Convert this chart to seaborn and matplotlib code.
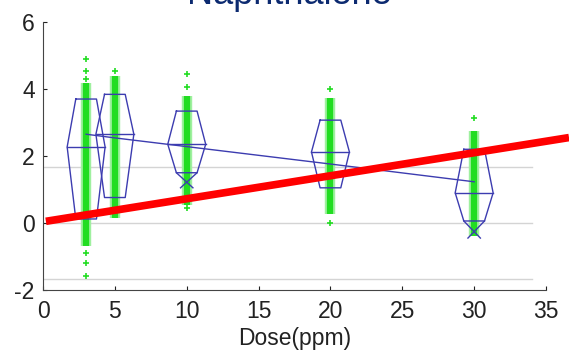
import matplotlib
matplotlib.use("Agg")
import matplotlib.pyplot as plt
import seaborn as sns
import pandas as pd

# doses and per-dose summaries
doses = [3, 5, 10, 20, 30]
q3 = [3.70, 3.84, 3.34, 3.07, 2.20]
med = [2.27, 2.65, 2.35, 2.12, 0.90]
q1 = [0.12, 0.76, 1.50, 1.05, 0.06]
cross_lo = [None, None, 1.05, None, -0.45]   # notch crossing below q1
means = [2.65, 2.54, 2.28, 1.76, 1.23]

# dense green columns (range) and sparse outlying points
dense_lo = [-0.70, 0.15, 0.55, 0.27, -0.40]
dense_hi = [4.18, 4.40, 3.80, 3.74, 2.75]
out_dose = [3, 3, 3, 3, 3, 3, 5, 10, 10, 10, 20, 20, 30]
out_val = [4.90, 4.54, 4.30, -0.90, -1.20, -1.57, 4.54, 4.46, 4.06, 0.46, 4.00, 0.00, 3.14]

ref_levels = [1.67, 0.0, -1.67]
red_x = [0.2, 36.6]
red_y = [0.05, 2.55]

plt.rcParams["font.family"] = ["Liberation Sans", "DejaVu Sans"]
plt.rcParams["axes.unicode_minus"] = False
fig = plt.figure(figsize=(5.69, 3.57), dpi=100)
ax = fig.add_axes([0.0756, 0.1877, 0.884, 0.7507])

for lv in ref_levels:
    ax.plot([0, 34.0], [lv, lv], color="#d4d4d4", lw=1, zorder=1)

green = "#22dd22"
ax.vlines(doses, dense_lo, dense_hi, color="#9ff09f", lw=7.5, zorder=2)
ax.vlines(doses, dense_lo, dense_hi, color=green, lw=4.5, zorder=2)
pts = pd.DataFrame({"dose": out_dose, "val": out_val})
sns.scatterplot(data=pts, x="dose", y="val", marker="+", color=green, s=22,
                linewidth=1.2, ax=ax, zorder=2)

box_c = "#3c3cb0"
ws, wb = 0.72, 1.32
for d, a, m, b, c in zip(doses, q3, med, q1, cross_lo):
    xs = [d - ws, d + ws, d + wb, d + ws, d - ws, d - wb, d - ws]
    ys = [a, a, m, b, b, m, a]
    ax.plot(xs, ys, color=box_c, lw=1, zorder=3)
    ax.plot([d - wb, d + wb], [m, m], color=box_c, lw=1, zorder=3)
    if c is not None:
        ax.plot([d - ws, d + 0.6 * ws], [b, c], color=box_c, lw=1, zorder=3)
        ax.plot([d + ws, d - 0.6 * ws], [b, c], color=box_c, lw=1, zorder=3)

mdf = pd.DataFrame({"dose": doses, "mean": means})
sns.lineplot(data=mdf, x="dose", y="mean", color=box_c, lw=1, ax=ax, zorder=3)

ax.plot(red_x, red_y, color="#ff0000", lw=5.5, solid_capstyle="butt",
        clip_on=False, zorder=5)

ax.set_xlim(0, 35)
ax.set_ylim(-2, 6)
ax.set_xticks(range(0, 36, 5))
ax.set_yticks([-2, 0, 2, 4, 6])
ax.tick_params(direction="in", length=3, labelsize=16.5, colors="#222222")
ax.tick_params(axis="x", pad=7)
ax.tick_params(axis="y", pad=6)
for s in ["top", "right"]:
    ax.spines[s].set_visible(False)
for s in ["left", "bottom"]:
    ax.spines[s].set_color("#444444")
ax.set_xlabel("Dose(ppm)", fontsize=16.5, color="#222222", labelpad=3)
ax.set_ylabel("")

fig.text(0.508, 0.99, "Naphthalene", color="#0c2a70", fontsize=26,
         ha="center", va="baseline")

fig.savefig("out.png", dpi=100)
